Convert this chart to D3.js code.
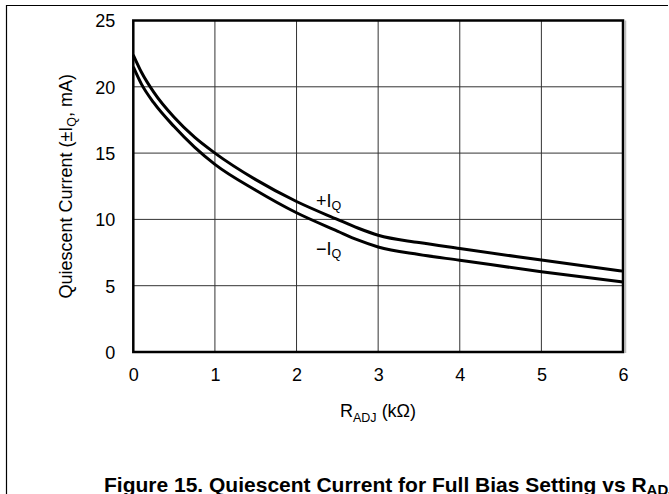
<!DOCTYPE html>
<html>
<head>
<meta charset="utf-8">
<script src="https://cdn.jsdelivr.net/npm/d3@7"></script>
<style>
  html, body { margin: 0; padding: 0; background: #fff; }
  svg { display: block; }
  text { font-family: "Liberation Sans", Arial, Helvetica, sans-serif; fill: #000; }
</style>
</head>
<body>
<svg id="chart" width="669" height="494"></svg>
<script>
// ---- data ----
const rAdj    = [0,    0.1,  0.25, 0.5,  0.75, 1,    1.5,  2,     2.5,  2.75, 3,    3.5,  4,    5,    6];
const plusIQ  = [22.4, 21.1, 19.6, 17.7, 16.2, 15.0, 13.0, 11.35, 10.0, 9.35, 8.8,  8.25, 7.8,  6.93, 6.1];
const minusIQ = [21.5, 20.2, 18.8, 17.0, 15.45,14.15,12.2, 10.5,  9.12, 8.45, 7.92, 7.35, 6.92, 6.05, 5.28];
const xTicks  = [0, 1, 2, 3, 4, 5, 6];
const yTicks  = [0, 5, 10, 15, 20, 25];

const svg = d3.select("#chart");

// outer frame lines
svg.append("line").attr("x1", 6).attr("y1", 5.5).attr("x2", 668).attr("y2", 5.5)
  .attr("stroke", "#000").attr("stroke-width", 1.2);
svg.append("line").attr("x1", 6.5).attr("y1", 5).attr("x2", 6.5).attr("y2", 494)
  .attr("stroke", "#000").attr("stroke-width", 1.2);

const L = 133.3, R = 623, T = 20.5, B = 352;
const x = d3.scaleLinear().domain([0, 6]).range([L, R]);
const y = d3.scaleLinear().domain([0, 25]).range([B, T]);

// grid
const g = svg.append("g");
g.selectAll(".vg").data(xTicks.slice(1, -1)).join("line")
  .attr("x1", d => x(d)).attr("x2", d => x(d)).attr("y1", T).attr("y2", B)
  .attr("stroke", "#333").attr("stroke-width", 1);
g.selectAll(".hg").data(yTicks.slice(1, -1)).join("line")
  .attr("x1", L).attr("x2", R).attr("y1", d => y(d)).attr("y2", d => y(d))
  .attr("stroke", "#333").attr("stroke-width", 1);

// right-edge shadow
svg.append("line").attr("x1", R + 2.5).attr("x2", R + 2.5).attr("y1", T).attr("y2", B + 1)
  .attr("stroke", "#bbb").attr("stroke-width", 1.5);

// plot border
svg.append("rect").attr("x", L).attr("y", T).attr("width", R - L).attr("height", B - T)
  .attr("fill", "none").attr("stroke", "#000").attr("stroke-width", 2.5);

// axes (labels only)
const xAxis = d3.axisBottom(x).tickValues(xTicks).tickSize(0).tickPadding(0).tickFormat(d3.format("d"));
const xa = svg.append("g").attr("transform", `translate(0,${B})`).call(xAxis);
xa.select(".domain").remove();
xa.selectAll("text").attr("font-size", 18).attr("dy", null).attr("y", 29)
  .attr("font-family", "Liberation Sans, Arial, sans-serif").attr("fill", "#000");

const yAxis = d3.axisLeft(y).tickValues(yTicks).tickSize(0).tickPadding(0).tickFormat(d3.format("d"));
const ya = svg.append("g").attr("transform", `translate(${L},0)`).call(yAxis);
ya.select(".domain").remove();
ya.selectAll("text").attr("font-size", 18).attr("x", -18).attr("dy", "0.35em")
  .attr("font-family", "Liberation Sans, Arial, sans-serif").attr("fill", "#000");

// curves
const line = d3.line().x(d => x(d[0])).y(d => y(d[1])).curve(d3.curveMonotoneX);
[plusIQ, minusIQ].forEach(series => {
  svg.append("path").datum(rAdj.map((r, i) => [r, series[i]]))
    .attr("d", line).attr("fill", "none").attr("stroke", "#000").attr("stroke-width", 3)
    .attr("stroke-linejoin", "round");
});

// curve labels
function subLabel(px, py, main, sub, size, subSize, subDy) {
  const t = svg.append("text").attr("x", px).attr("y", py).attr("font-size", size);
  t.append("tspan").text(main);
  t.append("tspan").attr("font-size", subSize).attr("dy", subDy).text(sub);
  return t;
}
subLabel(316, 206.5, "+I", "Q", 18, 12.5, 3);
subLabel(316, 255, "\u2212I", "Q", 18, 12.5, 3);

// x axis title
const xt = svg.append("text").attr("x", 340).attr("y", 416.5).attr("font-size", 18);
xt.append("tspan").text("R");
xt.append("tspan").attr("font-size", 12.5).attr("dy", 5).text("ADJ");
xt.append("tspan").attr("dy", -5).text(" (k\u03A9)");

// y axis title
const yt = svg.append("text").attr("transform", `translate(72,${(T + B) / 2}) rotate(-90)`)
  .attr("text-anchor", "middle").attr("font-size", 18);
yt.append("tspan").text("Quiescent Current (\u00B1I");
yt.append("tspan").attr("font-size", 12.5).attr("dy", 4).text("Q");
yt.append("tspan").attr("dy", -4).text(", mA)");

// figure caption
const ft = svg.append("text").attr("x", 104).attr("y", 491.5).attr("font-size", 21)
  .attr("font-weight", "bold");
ft.append("tspan").text("Figure 15. Quiescent Current for Full Bias Setting vs R");
ft.append("tspan").attr("font-size", 15).attr("dy", 3).text("ADJ");
</script>
</body>
</html>
